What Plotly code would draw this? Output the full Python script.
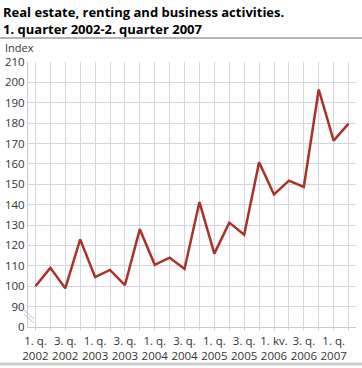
import plotly.graph_objects as go

quarters = ["2002Q1","2002Q2","2002Q3","2002Q4","2003Q1","2003Q2","2003Q3","2003Q4",
            "2004Q1","2004Q2","2004Q3","2004Q4","2005Q1","2005Q2","2005Q3","2005Q4",
            "2006Q1","2006Q2","2006Q3","2006Q4","2007Q1","2007Q2"]
index_values = [100, 109, 99, 123, 104.5, 108, 100.5, 128, 110.5, 114, 108.5, 141.3,
                116, 131.2, 125.3, 160.8, 145, 151.8, 148.7, 196.5, 171.4, 179.8]
tick_labels = ["1. q.<br>2002", "", "3. q.<br>2002", "", "1. q.<br>2003", "", "3. q.<br>2003", "",
               "1. q.<br>2004", "", "3. q.<br>2004", "", "1. q.<br>2005", "", "3. q.<br>2005", "",
               "1. kv.<br>2006", "", "3. q.<br>2006", "", "1. q.<br>2007", ""]
y_tickvals = [80, 90, 100, 110, 120, 130, 140, 150, 160, 170, 180, 190, 200, 210]
y_ticktext = ["0", "90", "100", "110", "120", "130", "140", "150", "160", "170", "180", "190", "200", "210"]

W, H = 362, 368
L, R, T, B = 28, 6, 62, 41
pw, ph = W - L - R, H - T - B

def px_x(x):
    return (x - L) / pw

def px_y(y):
    return (H - B - y) / ph

xs = list(range(len(quarters)))

fig = go.Figure()
fig.add_trace(go.Scatter(x=xs, y=index_values, mode="lines",
                         line=dict(color="#a8322b", width=2.5), hoverinfo="skip"))

grid = "#d3d6de"
font_fam = "Open Sans, Noto Sans, sans-serif"

fig.update_layout(
    width=W, height=H,
    margin=dict(l=L, r=R, t=T, b=B, pad=0, autoexpand=False),
    paper_bgcolor="white", plot_bgcolor="white",
    showlegend=False,
    font=dict(family=font_fam, size=12, color="#333333"),
    xaxis=dict(range=[-0.5, 21.5], tickvals=xs, ticktext=tick_labels,
               showgrid=True, gridcolor=grid, gridwidth=1,
               ticks="outside", ticklen=3, tickcolor=grid,
               showline=True, linecolor="#c8cad2", linewidth=1,
               tickfont=dict(size=11.5, color="#333333"), zeroline=False, tickangle=0,
               automargin=False),
    yaxis=dict(range=[80, 210], tickvals=y_tickvals, ticktext=y_ticktext,
               showgrid=True, gridcolor=grid, gridwidth=1,
               showline=True, linecolor="#c8cad2", linewidth=1,
               ticks="", zeroline=False, automargin=False,
               tickfont=dict(size=11.5, color="#333333")),
    annotations=[
        dict(text="<b>Real estate, renting and business activities.<br>1. quarter 2002-2. quarter 2007</b>",
             xref="paper", yref="paper", x=px_x(1), y=px_y(1), xanchor="left", yanchor="top",
             align="left", showarrow=False,
             font=dict(family=font_fam, size=13, color="#000000")),
        dict(text="Index", xref="paper", yref="paper",
             x=px_x(4), y=px_y(47), xanchor="left", yanchor="middle",
             showarrow=False, borderpad=0, font=dict(size=11, color="#333333")),
    ],
    shapes=[
        dict(type="line", xref="paper", yref="paper", x0=px_x(0), x1=px_x(W), y0=px_y(38), y1=px_y(38),
             line=dict(color="#b4b4b4", width=2)),
        dict(type="line", xref="paper", yref="paper", x0=px_x(0), x1=px_x(W), y0=px_y(364), y1=px_y(364),
             line=dict(color="#cccccc", width=3)),
        dict(type="line", xref="paper", yref="paper", x0=px_x(24), x1=px_x(34), y0=px_y(310), y1=px_y(319),
             line=dict(color="#bcc0c8", width=1)),
        dict(type="line", xref="paper", yref="paper", x0=px_x(24), x1=px_x(34), y0=px_y(314), y1=px_y(323),
             line=dict(color="#bcc0c8", width=1)),
    ],
)

fig.write_html("out.html", config={"displayModeBar": False},
               post_script="document.body.style.margin='0';document.body.style.padding='0';")
